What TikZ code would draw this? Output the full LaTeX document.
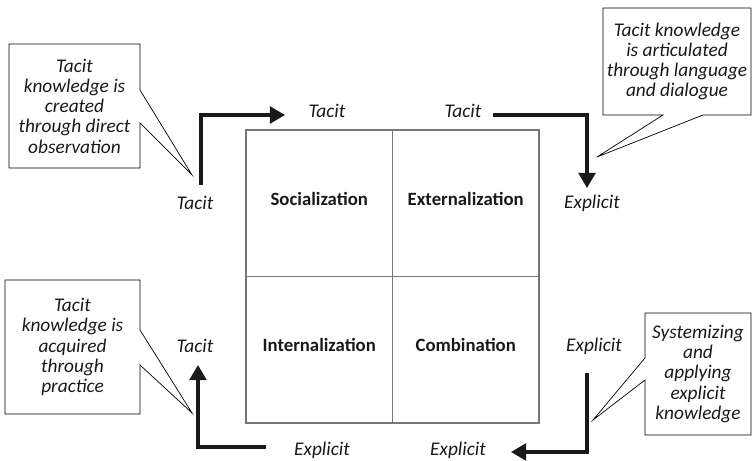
\documentclass[tikz,border=0pt]{standalone}
\usepackage{fontspec}
\setmainfont{Carlito}
\usetikzlibrary{positioning, arrows.meta, calc}
\definecolor{grade}{RGB}{118, 118, 118}
\definecolor{tinta}{RGB}{25, 25, 25}

\begin{document}
\begin{tikzpicture}[x=0.03cm, y=-0.03cm,
        cell/.style={draw=grade, line width=1.5pt, minimum width=4.395cm, minimum height=4.395cm, outer sep=0pt, text depth=8pt, text=tinta, font=\fontsize{16}{19}\selectfont\bfseries},
        lbl/.style={anchor=base, inner sep=0pt, text=tinta, font=\fontsize{16.5}{19}\selectfont\itshape},
        balao/.style={align=center, outer sep=0pt, inner sep=2pt, text=tinta, font=\fontsize{16.5}{17.3}\selectfont\itshape},
        contorno/.style={draw=black, line width=0.6pt, line join=miter},
        seta/.style={-{Triangle[width=14.5pt,length=13pt]}, line width=2.6pt, draw=tinta}]
        \useasboundingbox (0,0) rectangle (753,461);

        % Quadrantes
        \node[cell] (soc) at (319.25,203.25) {Socialization};
        \node[cell, right=0pt of soc] (ext) {Externalization};
        \node[cell, below=0pt of soc] (int) {Internalization};
        \node[cell, right=0pt of int] (comb) {Combination};

        % Rótulos das setas
        \node[lbl] (tacitT) at (327,118) {Tacit};
        \node[lbl] (tacitR) at (463,118) {Tacit};
        \node[lbl] (tacitL) at (195,210) {Tacit};
        \node[lbl] (explicitR) at (592,209) {Explicit};
        \node[lbl] (tacitLB) at (195,353) {Tacit};
        \node[lbl] (explicitRB) at (594,352) {Explicit};
        \node[lbl] (explicitB1) at (322,455.5) {Explicit};
        \node[lbl] (explicitB2) at (458,455.5) {Explicit};

        % Setas
        \draw[seta] ($(tacitL.base)+(6,-25)$) |- ($(tacitT.base)+(-42,-3)$);
        \draw[seta] ($(tacitR.base)+(30,-3)$) -| ($(explicitR.base)+(-5,-21)$);
        \draw[seta] ($(explicitRB.base)+(-7,21)$) |- ($(explicitB2.base)+(53,-3.5)$);
        \draw[seta] ($(explicitB1.base)+(-56,-8.5)$) -| ($(tacitLB.base)+(3,12)$);

        % Balões
        \node[balao, minimum width=3.93cm, minimum height=3.72cm] (c1) at (74.5,106) {Tacit\\knowledge is\\created\\through direct\\observation};
        \node[balao, minimum width=4.44cm, minimum height=3.21cm] (c2) at (677,61.5) {Tacit knowledge\\is articulated\\through language\\and dialogue};
        \node[balao, minimum width=4.05cm, minimum height=4.02cm] (c3) at (72.5,347) {Tacit\\knowledge is\\acquired\\through\\practice};
        \node[balao, minimum width=3.18cm, minimum height=3.66cm] (c4) at (698,374) {Systemizing\\and\\applying\\explicit\\knowledge};

        \coordinate (t1) at (192,175);
        \coordinate (t2) at (597,157);
        \coordinate (t3) at (192,413);
        \coordinate (t4) at (593,420);

        \draw[contorno] (c1.north west) -- (c1.north east) -- ($(c1.east)+(0,-16)$) -- (t1) -- ($(c1.east)+(0,17)$) -- (c1.south east) -- (c1.south west) -- cycle;
        \draw[contorno] (c2.north west) -- (c2.north east) -- (c2.south east) -- ($(c2.south)+(26,0)$) -- (t2) -- ($(c2.south)+(-14,0)$) -- (c2.south west) -- cycle;
        \draw[contorno] (c3.north west) -- (c3.north east) -- ($(c3.east)+(0,-17)$) -- (t3) -- ($(c3.east)+(0,18)$) -- (c3.south east) -- (c3.south west) -- cycle;
        \draw[contorno] (c4.north west) -- (c4.north east) -- (c4.south east) -- (c4.south west) -- ($(c4.west)+(0,6)$) -- (t4) -- ($(c4.west)+(0,-16)$) -- cycle;
    \end{tikzpicture}
\end{document}
